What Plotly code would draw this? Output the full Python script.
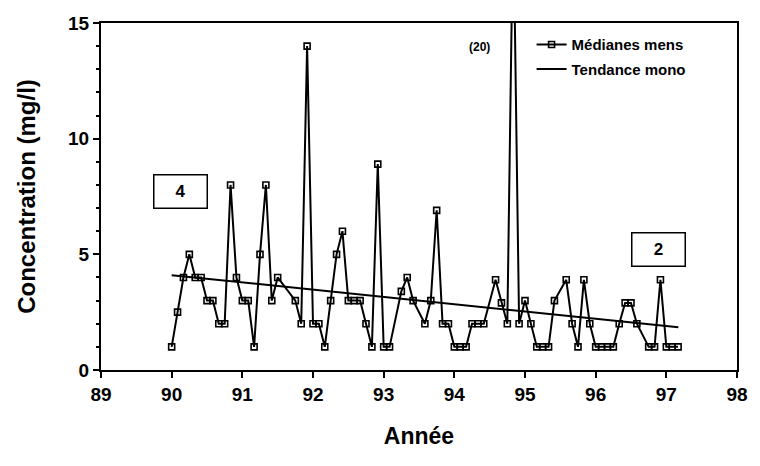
import plotly.graph_objects as go

# Monthly medians: month offset from Jan 1990, value (mg/l)
month_offsets = [0, 1, 2, 3, 4, 5, 6, 7, 8, 9, 10, 11, 12, 13, 14, 15, 16, 17, 18,
                 21, 22, 23, 24, 25, 26, 27, 28, 29, 30, 31, 32, 33, 34, 35, 36, 37,
                 39, 40, 41, 43, 44, 45, 46, 47, 48, 49, 50, 51, 52, 53,
                 55, 56, 57, 58, 59, 60, 61, 62, 63, 64, 65,
                 67, 68, 69, 70, 71, 72, 73, 74, 75, 76, 77, 78, 79,
                 81, 82, 83, 84, 85, 86]
medians = [1, 2.5, 4, 5, 4, 4, 3, 3, 2, 2, 8, 4, 3, 3, 1, 5, 8, 3, 4,
           3, 2, 14, 2, 2, 1, 3, 5, 6, 3, 3, 3, 2, 1, 8.9, 1, 1,
           3.4, 4, 3, 2, 3, 6.9, 2, 2, 1, 1, 1, 2, 2, 2,
           3.9, 2.9, 2, 20, 2, 3, 2, 1, 1, 1, 3,
           3.9, 2, 1, 3.9, 2, 1, 1, 1, 1, 2, 2.9, 2.9, 2,
           1, 1, 3.9, 1, 1, 1]
years = [90 + m / 12 for m in month_offsets]

trend_years = [90.0, 97.17]
trend_values = [4.1, 1.85]

x_ticks = [89, 90, 91, 92, 93, 94, 95, 96, 97, 98]
y_ticks = [0, 5, 10, 15]

FONT = "Liberation Sans, Arial, sans-serif"

fig = go.Figure()
fig.add_trace(go.Scatter(
    x=years, y=medians, mode="lines+markers", name="Médianes mens",
    legendgroup="a",
    line=dict(color="black", width=2),
    marker=dict(symbol="square-open", size=6, color="black", line=dict(width=1.6)),
))
fig.add_trace(go.Scatter(
    x=trend_years, y=trend_values, mode="lines", name="Tendance mono",
    legendgroup="b",
    line=dict(color="black", width=2),
))

fig.add_annotation(x=90.13, y=7.7, text="<b>4</b>", showarrow=False,
                   font=dict(family=FONT, size=17, color="black"),
                   bordercolor="black", borderwidth=1.5, width=50, height=30,
                   bgcolor="white")
fig.add_annotation(x=96.89, y=5.21, text="<b>2</b>", showarrow=False,
                   font=dict(family=FONT, size=17, color="black"),
                   bordercolor="black", borderwidth=1.5, width=50, height=30,
                   bgcolor="white")
fig.add_annotation(x=94.35, y=13.96, text="<b>(20)</b>", showarrow=False,
                   font=dict(family=FONT, size=12, color="black"))

fig.update_layout(
    width=760, height=466,
    margin=dict(l=101, r=15, t=23, b=96),
    paper_bgcolor="white", plot_bgcolor="white",
    font=dict(family=FONT, color="black"),
    showlegend=True,
    legend=dict(x=0.677, y=0.985, xanchor="left", yanchor="top",
                bgcolor="rgba(0,0,0,0)", font=dict(family=FONT, size=15, weight="bold"),
                tracegroupgap=2, itemwidth=30),
    xaxis=dict(range=[89, 98], tickvals=x_ticks, ticktext=[str(v) for v in x_ticks],
               showgrid=False, zeroline=False, showline=True, linecolor="black", linewidth=2,
               mirror=True, ticks="outside", ticklen=6, tickwidth=1.5, tickcolor="black",
               tickfont=dict(family=FONT, size=19, weight="bold"),
               title=dict(text="Année", font=dict(family=FONT, size=23, weight="bold"), standoff=24)),
    yaxis=dict(range=[0, 15], tickvals=y_ticks, ticktext=[str(v) for v in y_ticks],
               showgrid=False, zeroline=False, showline=True, linecolor="black", linewidth=2,
               mirror=True, ticks="outside", ticklen=6, tickwidth=1.5, tickcolor="black",
               minor=dict(dtick=1, ticks="outside", ticklen=3, tickcolor="black", showgrid=False),
               tickfont=dict(family=FONT, size=19, weight="bold"),
               title=dict(text="Concentration (mg/l)", font=dict(family=FONT, size=24, weight="bold"), standoff=26)),
)

fig.write_html("out.html")
